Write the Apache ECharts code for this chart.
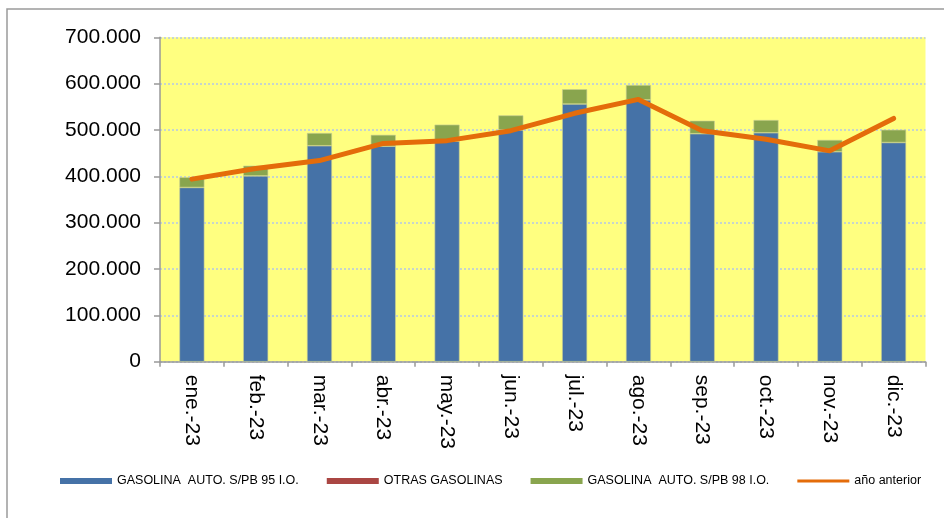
<!DOCTYPE html>
<html>
<head>
<meta charset="utf-8">
<script src="https://cdn.jsdelivr.net/npm/echarts@6/dist/echarts.min.js"></script>
<style>
  html, body { margin: 0; padding: 0; background: #ffffff; }
  #chart { width: 944px; height: 518px; }
</style>
</head>
<body>
<div id="chart"></div>
<script>
// Monthly gasoline consumption (tonnes), 2023, with previous-year total
const months = ['ene.-23', 'feb.-23', 'mar.-23', 'abr.-23', 'may.-23', 'jun.-23',
                'jul.-23', 'ago.-23', 'sep.-23', 'oct.-23', 'nov.-23', 'dic.-23'];
const gasolina95 = [376000, 401000, 466000, 465000, 476000, 500000,
                    556000, 565000, 492000, 494000, 453000, 473000];
const otrasGasolinas = [0, 0, 0, 0, 0, 0, 0, 0, 0, 0, 0, 0];
const gasolina98 = [22000, 22000, 27500, 24500, 35500, 31500,
                    32000, 32000, 28000, 27500, 25500, 27500];
const anioAnterior = [394000, 417000, 434000, 471000, 477000, 498500,
                      536000, 566000, 498500, 480000, 455000, 525000];
const yTicks = { min: 0, max: 700000, interval: 100000 };

const fmtThousands = v => String(v).replace(/\B(?=(\d{3})+(?!\d))/g, '.');

const chart = echarts.init(document.getElementById('chart'), null, { renderer: 'canvas' });

const FONT = 'Liberation Sans, Arial, sans-serif';

chart.setOption({
  animation: false,
  backgroundColor: '#ffffff',
  textStyle: { fontFamily: FONT },
  graphic: [{
    type: 'rect',
    z: -10,
    shape: { x: 7, y: 9, width: 1200, height: 1200 },
    style: { fill: 'none', stroke: '#9a9a9a', lineWidth: 1.5 }
  }],
  grid: {
    left: 160, right: 18.5, top: 37.3, bottom: 156.3,
    show: true, backgroundColor: '#ffff80', borderWidth: 0
  },
  legend: {
    left: 60, top: 474.5, padding: 0,
    itemWidth: 52, itemHeight: 6, itemGap: 28,
    itemStyle: { borderWidth: 0 },
    textStyle: { fontFamily: FONT, fontSize: 12.5, color: '#000000' },
    data: [
      { name: 'GASOLINA  AUTO. S/PB 95 I.O.', icon: 'rect' },
      { name: 'OTRAS GASOLINAS', icon: 'rect' },
      { name: 'GASOLINA  AUTO. S/PB 98 I.O.', icon: 'rect' },
      { name: 'año anterior', icon: 'path://M0,0 L52,0 L52,3 L0,3 Z' }
    ]
  },
  xAxis: {
    type: 'category',
    data: months,
    axisLine: { lineStyle: { color: '#999999', width: 1.5 } },
    axisTick: { show: true, length: 5, alignWithLabel: false, lineStyle: { color: '#999999', width: 1.5 } },
    axisLabel: {
      rotate: -90, margin: 13, interval: 0,
      fontFamily: FONT, fontSize: 21, color: '#000000'
    },
    splitLine: { show: false }
  },
  yAxis: {
    type: 'value',
    min: yTicks.min, max: yTicks.max, interval: yTicks.interval,
    axisLine: { show: true, lineStyle: { color: '#999999', width: 1.5 } },
    axisTick: { show: true, length: 6, lineStyle: { color: '#999999', width: 1.5 } },
    axisLabel: {
      margin: 19, fontFamily: FONT, fontSize: 21, color: '#000000',
      formatter: v => fmtThousands(v)
    },
    splitLine: { show: true, lineStyle: { color: '#b4c8e6', width: 1.5, type: [2, 2] } }
  },
  series: [
    {
      name: 'GASOLINA  AUTO. S/PB 95 I.O.', type: 'bar', stack: 'total',
      data: gasolina95, barWidth: 25,
      itemStyle: { color: '#4572a7', borderColor: '#c9cf94', borderWidth: 0.6 }
    },
    {
      name: 'OTRAS GASOLINAS', type: 'bar', stack: 'total',
      data: otrasGasolinas, barWidth: 25,
      itemStyle: { color: '#aa4643' }
    },
    {
      name: 'GASOLINA  AUTO. S/PB 98 I.O.', type: 'bar', stack: 'total',
      data: gasolina98, barWidth: 25,
      itemStyle: { color: '#89a54e', borderColor: '#c9cf94', borderWidth: 0.6 }
    },
    {
      name: 'año anterior', type: 'line',
      data: anioAnterior, symbol: 'none', z: 5,
      lineStyle: { color: '#e46c0a', width: 5, cap: 'round', join: 'round' },
      itemStyle: { color: '#e46c0a' }
    }
  ]
});
</script>
</body>
</html>
